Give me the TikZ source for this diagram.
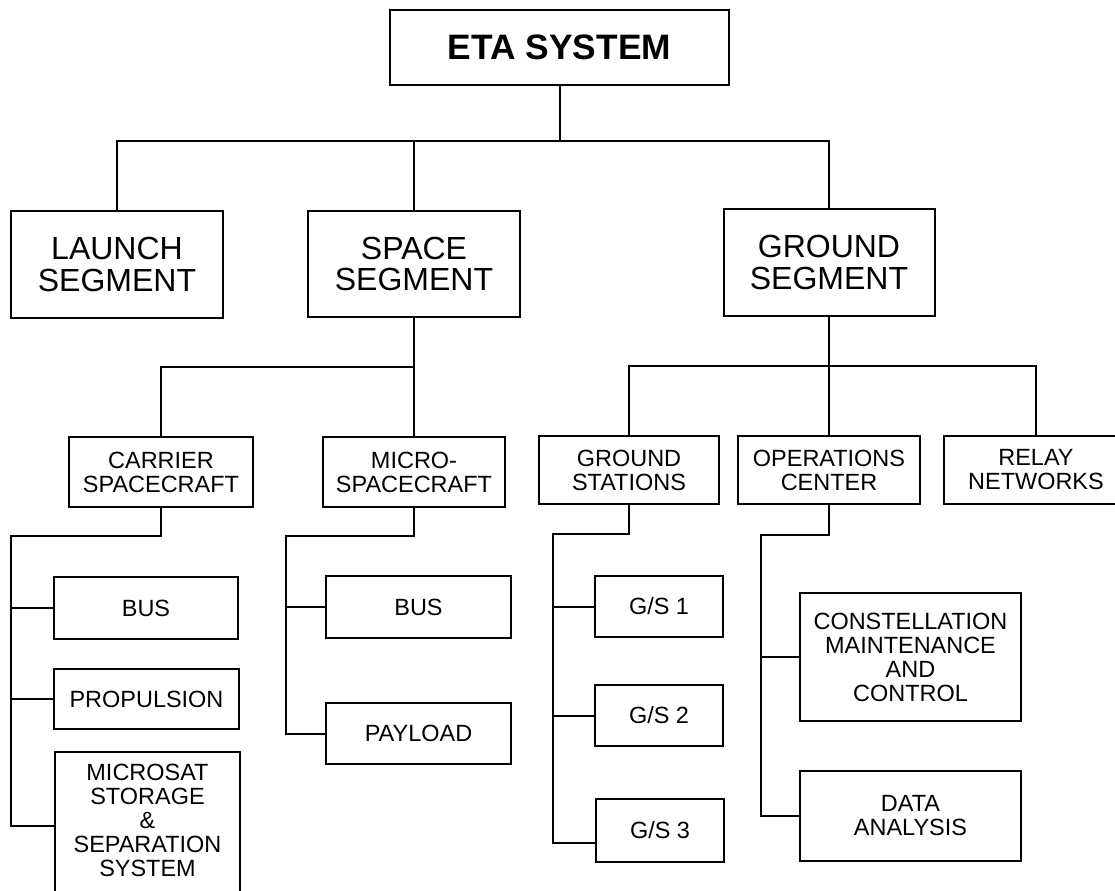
\documentclass[tikz,border=0pt]{standalone}
\usepackage{fontspec}
\setmainfont{Liberation Sans}
\usetikzlibrary{calc}
\tikzset{
  box/.style={draw, line width=1.5pt, inner sep=0pt, align=center, fill=white},
  wh/.style 2 args={minimum width=#1*0.75pt, minimum height=#2*0.75pt},
  smalltxt/.style={font=\fontsize{17.6pt}{18pt}\selectfont},
  bigtxt/.style={font=\fontsize{24pt}{23.8pt}\selectfont},
  etatxt/.style={font=\fontsize{26.5pt}{28pt}\selectfont\bfseries},
  conn/.style={line width=1.5pt}
}
\begin{document}
\begin{tikzpicture}[x=0.75pt,y=-0.75pt]
\useasboundingbox (0,0) rectangle (1115,890);
% level 0
\node[box, etatxt, wh={339}{75}] (eta) at (559.5,47.5) {ETA SYSTEM};
% level 1
\node[box, bigtxt, wh={212}{107}] (launch) at (117,264.5) {LAUNCH\\SEGMENT};
\node[box, bigtxt, wh={212}{106}] (space) at (414,264) {SPACE\\SEGMENT};
\node[box, bigtxt, wh={211}{107}] (ground) at (829,262.5) {GROUND\\SEGMENT};
% level 2
\node[box, smalltxt, wh={184}{70}] (carrier) at (161,472) {CARRIER\\SPACECRAFT};
\node[box, smalltxt, wh={182}{70}] (micro) at (414,472) {MICRO-\\SPACECRAFT};
\node[box, smalltxt, wh={180}{68}] (gstations) at (629,470) {GROUND\\STATIONS};
\node[box, smalltxt, wh={182}{68}] (ops) at (829,470) {OPERATIONS\\CENTER};
\node[box, smalltxt, wh={184}{68}] (relay) at (1036,470) {RELAY\\NETWORKS};
% level 3 carrier
\node[box, smalltxt, wh={184}{62}] (cbus) at (146,608) {BUS};
\node[box, smalltxt, wh={185}{60}] (prop) at (146.5,699) {PROPULSION};
\node[box, smalltxt, wh={185}{148},
  label={[smalltxt, align=center, yshift=4.5pt]center:{MICROSAT\\STORAGE\\\&\\SEPARATION\\SYSTEM}}] (msat) at (147.5,826) {};
% level 3 micro
\node[box, smalltxt, wh={185}{62}] (mbus) at (418.5,607) {BUS};
\node[box, smalltxt, wh={185}{61}] (payload) at (418.5,733.5) {PAYLOAD};
% level 3 ground stations
\node[box, smalltxt, wh={128}{61}] (gs1) at (659,606.5) {G/S 1};
\node[box, smalltxt, wh={128}{61}] (gs2) at (659,715.5) {G/S 2};
\node[box, smalltxt, wh={128}{63}] (gs3) at (660,830.5) {G/S 3};
% level 3 operations
\node[box, smalltxt, wh={221}{128}] (const) at (910.5,657) {CONSTELLATION\\MAINTENANCE\\AND\\CONTROL};
\node[box, smalltxt, wh={221}{90}] (data) at (910.5,816) {DATA\\ANALYSIS};

% junctions
\coordinate (j0) at (559.5,141);
\coordinate (j1) at (414,367);
\coordinate (j2) at (829,366);
\coordinate (cs) at (11,536);
\coordinate (ms) at (286,536);
\coordinate (gss) at (553,534);
\coordinate (os) at (761,535);

% connectors
\draw[conn] (eta.south) -- (j0);
\draw[conn] (launch.north) |- (j0) -| (ground.north);
\draw[conn] (space.north) -- (space.north |- j0);

\draw[conn] (space.south) -- (micro.north);
\draw[conn] (j1) -| (carrier.north);

\draw[conn] (ground.south) -- (ops.north);
\draw[conn] (gstations.north) |- (j2) -| (relay.north);

\draw[conn] (carrier.south) |- (cs) |- (msat.west);
\draw[conn] (cs |- cbus.west) -- (cbus.west);
\draw[conn] (cs |- prop.west) -- (prop.west);

\draw[conn] (micro.south) |- (ms) |- (payload.west);
\draw[conn] (ms |- mbus.west) -- (mbus.west);

\coordinate (gs3in) at ($(gs3.south west)+(0,-20)$);
\draw[conn] (gstations.south) |- (gss) |- (gs3in);
\draw[conn] (gss |- gs1.west) -- (gs1.west);
\draw[conn] (gss |- gs2.west) -- (gs2.west);

\draw[conn] (ops.south) |- (os) |- (data.west);
\draw[conn] (os |- const.west) -- (const.west);
\end{tikzpicture}
\end{document}
